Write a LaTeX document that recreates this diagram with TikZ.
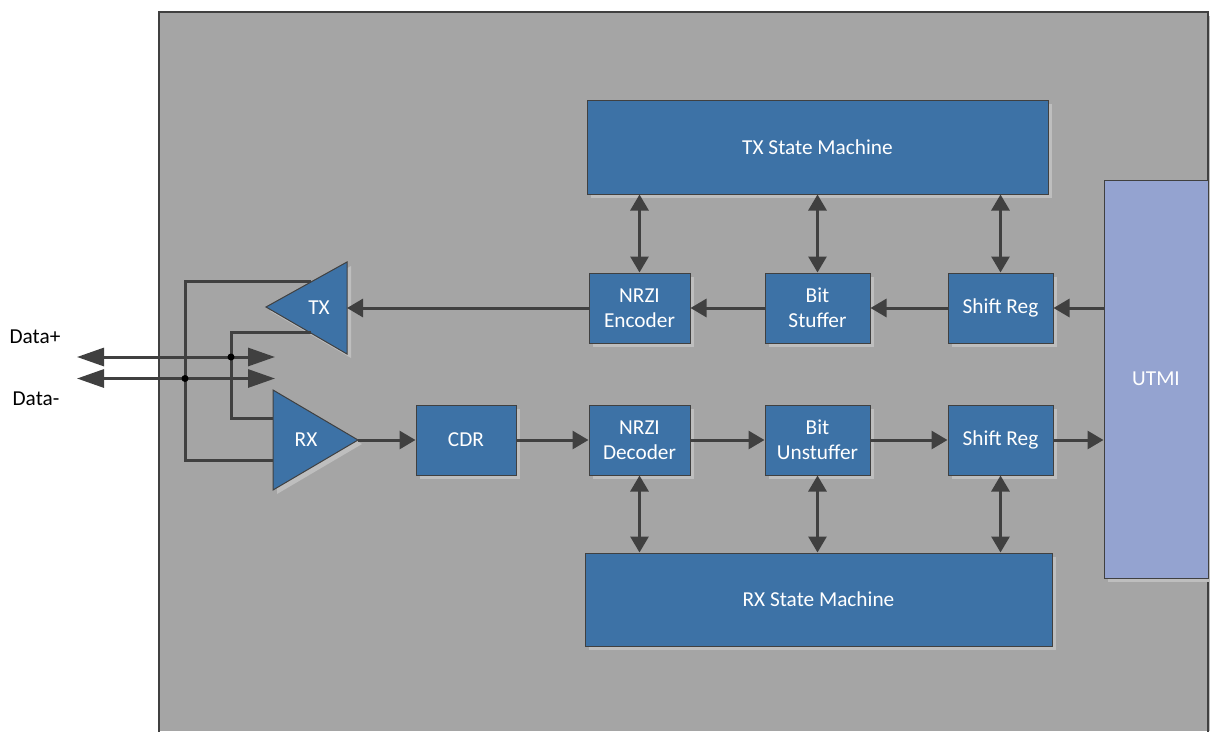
\documentclass[tikz,border=0pt]{standalone}
\usepackage{fontspec}
\setmainfont{Carlito}
\usetikzlibrary{arrows.meta,shadows,calc}
\definecolor{bgray}{HTML}{A5A5A5}
\definecolor{blkfill}{HTML}{3D72A6}
\definecolor{utmifill}{HTML}{94A3D0}
\definecolor{shd}{HTML}{BEBEBE}
\definecolor{wire}{HTML}{404040}
\begin{document}
\begin{tikzpicture}[x=1pt,y=-1pt,
  txt/.style={font=\fontsize{21.3}{25}\selectfont},
  blkbox/.style={draw=wire, line width=1pt, fill=blkfill, text=white, align=center, inner sep=0pt,
    font=\fontsize{21.3}{25}\selectfont,
    drop shadow={shadow xshift=4pt, shadow yshift=-4pt, fill=shd, opacity=1}},
  conn/.style={draw=wire, line width=3pt, -{Triangle[length=16pt,width=18pt]}},
  dbl/.style={draw=wire, line width=3pt, {Triangle[length=16pt,width=18pt]}-{Triangle[length=16pt,width=18pt]}},
  dataarr/.style={draw=wire, line width=3pt, {Triangle[length=27pt,width=18pt]}-{Triangle[length=27pt,width=18pt]}},
  wirel/.style={draw=wire, line width=3pt}
]
\useasboundingbox (0,0) rectangle (1210,731);
\fill[white] (0,0) rectangle (1210,731);
% background panel
\fill[shd] (1208,16) rectangle (1211,731);
\fill[bgray] (159,12) rectangle (1208,731);
\draw[wire, line width=1.2pt] (159,732) -- (159,12) -- (1208,12) -- (1208,732);

% blocks
\node[blkbox, minimum width=461pt, minimum height=94pt] (txsm) at (817.5,147) {TX State Machine};
\node[blkbox, minimum width=467pt, minimum height=93pt] (rxsm) at (818.5,599.5) {RX State Machine};
\node[blkbox, fill=utmifill, minimum width=104pt, minimum height=398pt, anchor=center] (utmi) at (1156,379) {UTMI};
\node[blkbox, minimum width=101pt, minimum height=70pt] (nrzie) at (639.5,308) {NRZI\\Encoder};
\node[blkbox, minimum width=105pt, minimum height=70pt] (bitst) at (817.5,308) {Bit\\Stuffer};
\node[blkbox, minimum width=105pt, minimum height=70pt] (srt) at (1000.5,308) {Shift Reg};
\node[blkbox, minimum width=100pt, minimum height=70pt] (cdr) at (466,440) {CDR};
\node[blkbox, minimum width=101pt, minimum height=70pt] (nrzid) at (639.5,440) {NRZI\\Decoder};
\node[blkbox, minimum width=105pt, minimum height=70pt] (bitun) at (817.5,440) {Bit\\Unstuffer};
\node[blkbox, minimum width=105pt, minimum height=70pt] (srb) at (1000.5,440) {Shift Reg};

% TX triangle
\coordinate (txa) at (266,307);
\coordinate (txt) at (347,262);
\coordinate (txb) at (347,354);
\fill[shd] ($(txa)+(4,4)$) -- ($(txt)+(4,4)$) -- ($(txb)+(4,4)$) -- cycle;
\filldraw[fill=blkfill, draw=wire, line width=1pt] (txa) -- (txt) -- (txb) -- cycle;
\node[txt, text=white] (tx) at (319,308) {TX};

% RX triangle
\coordinate (rxt) at (273,390);
\coordinate (rxb) at (273,490);
\coordinate (rxa) at (358,440);
\fill[shd] ($(rxt)+(4,4)$) -- ($(rxa)+(4,4)$) -- ($(rxb)+(4,4)$) -- cycle;
\filldraw[fill=blkfill, draw=wire, line width=1pt] (rxt) -- (rxa) -- (rxb) -- cycle;
\node[txt, text=white] (rx) at (306,440) {RX};

% data lines
\coordinate (dpl) at (77,357);
\coordinate (dpr) at (275,357);
\coordinate (dml) at (77,378.5);
\coordinate (dmr) at (275,378.5);
\coordinate (j1) at (185,378.5);
\coordinate (j2) at (231,357);
\coordinate (txw1) at ($(txa)!0.556!(txt)$);
\coordinate (txw2) at ($(txa)!0.553!(txb)$);
\coordinate (rxin1) at (273,418);
\coordinate (rxin2) at (273,460);

\draw[wirel] (txw1) -- (txw1 -| j1) -- (rxin2 -| j1) -- (rxin2);
\draw[wirel] (txw2) -- (txw2 -| j2) -- (rxin1 -| j2) -- (rxin1);
\draw[dataarr] (dpl) -- (dpr);
\draw[dataarr] (dml) -- (dmr);
\fill[black] (j1) circle (3.5);
\fill[black] (j2) circle (3.5);

\node[txt] (dplus) at (35,337) {Data+};
\node[txt] (dminus) at (36,399) {Data-};

% TX path
\draw[conn] (utmi.west |- srt) -- (srt.east);
\draw[conn] (srt.west) -- (bitst.east);
\draw[conn] (bitst.west) -- (nrzie.east);
\draw[conn] (nrzie.west) -- (nrzie.west -| txt);

% RX path
\draw[conn] (rxa) -- (cdr.west);
\draw[conn] (cdr.east) -- (nrzid.west);
\draw[conn] (nrzid.east) -- (bitun.west);
\draw[conn] (bitun.east) -- (srb.west);
\draw[conn] (srb.east) -- (srb -| utmi.west);

% state machine links
\draw[dbl] (txsm.south -| nrzie) -- (nrzie.north);
\draw[dbl] (txsm.south -| bitst) -- (bitst.north);
\draw[dbl] (txsm.south -| srt) -- (srt.north);
\draw[dbl] (nrzid.south) -- (rxsm.north -| nrzid);
\draw[dbl] (bitun.south) -- (rxsm.north -| bitun);
\draw[dbl] (srb.south) -- (rxsm.north -| srb);
\end{tikzpicture}
\end{document}
